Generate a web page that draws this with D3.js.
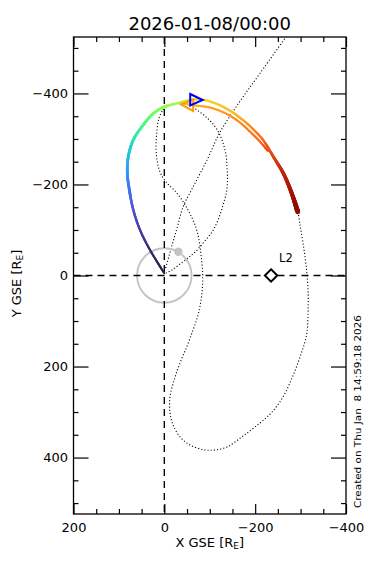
<!DOCTYPE html>
<html><head><meta charset="utf-8">
<script src="https://cdn.jsdelivr.net/npm/d3@7"></script>
<style>
body{margin:0;background:#fff}
svg{display:block}
text{font-family:"DejaVu Sans",sans-serif;fill:#000}
</style>
</head><body>
<svg id="c" width="379" height="566"></svg>
<script>
// ---------- data ----------
const titleText = "2026-01-08/00:00";
const xLabel = "X GSE [R";
const yLabel = "Y GSE [R";
const labelSub = "E";
const createdText = "Created on Thu Jan  8 14:59:18 2026";
const xMajorTicks = [200, 0, -200, -400];
const yMajorTicks = [-400, -200, 0, 200, 400];
const minorStep = 50;
const xDomain = [200, -400];
const yDomain = [-524, 524];

// colored trajectory (X, Y in RE, T = normalized time)
const trajX = [0, 31.5, 53.5, 68.3, 77, 81.5, 79.3, 68.3, 46.2, 24.2, -1.5, -27.3, -49.3, -67.6, -85.9, -115.4, -144.6, -173.9, -196, -218, -240, -262, -280.5, -293.7];
const trajY = [-5, -56, -100, -144, -188, -225, -261, -298, -331, -356, -371, -378, -384, -387, -386, -377, -362, -341, -321, -297, -261, -224.5, -180.6, -140];
const trajT = [0.01, 0.03, 0.06, 0.09, 0.13, 0.18, 0.24, 0.32, 0.39, 0.45, 0.49, 0.53, 0.56, 0.58, 0.60, 0.63, 0.66, 0.70, 0.74, 0.79, 0.84, 0.89, 0.93, 1.0];

// second colored track
const track2X = [-43.4, -63.8, -100.6, -137.4, -166.7, -188.7, -210.7, -228];
const track2Y = [-378, -374, -369, -355, -336, -316, -294, -273.5];
const track2T = [0.67, 0.68, 0.70, 0.72, 0.74, 0.76, 0.79, 0.83];

// dotted orbit 1 (straight outbound leg)
const dot1X = [-276.8, -209.6, -165.5, -121.5, -94, -63.2, -41.2, -28, -17, -6, -1.5];
const dot1Y = [-537, -442.7, -381.2, -313, -253.8, -194.5, -150.6, -104.3, -67, -27.5, -12];

// dotted orbit 2 (continuation loop)
const dot2X = [-294.4, -298.8, -305.4, -312, -316.4, -316.4, -313.1, -298.8, -281.2, -261.3, -237.1, -210.7, -173.3, -138, -111.6, -89.6, -56.6, -34.6, -19.2, -12.5, -12.5, -21.6, -34.6, -50, -63.2, -74.2, -80.8, -84.1, -84.1, -80.8, -76.4, -67.6, -54.4, -39, -21.4, -3.7, 9.5, 16.1, 18.3, 16.1, 11.7, 2.9, -12.5, -34.6, -56.6, -72, -89.6, -107.2, -120.4, -129.2, -135.8, -138, -139.1, -136.9, -129.2, -118.2, -105, -87.4, -69.8, -52.2, -34.6, -17, -3.7];
const dot2Y = [-139.5, -110.9, -71.4, -23.1, 31.9, 82.4, 130.7, 179, 225.1, 266.9, 299.9, 324, 352.6, 376.8, 383.3, 383.3, 372.4, 354.8, 328.4, 302.1, 266.9, 229.6, 192.2, 154.9, 119.7, 86.8, 53.8, 20.9, -12.1, -45, -78, -111, -139.5, -165.9, -187.8, -205.4, -227.4, -253.7, -286.7, -319.6, -346, -363.6, -374.6, -379, -374.6, -363.6, -350.4, -332.8, -313, -291, -264.7, -238.3, -209.8, -183.4, -154.9, -121.9, -95.6, -73.6, -53.8, -38.4, -25.3, -12.1, -5.5];

const moonOrbitRadius = 60;
const moonPos = [-30.8, -52.3];
const l2Pos = [-235, 0];
const l2Label = "L2";
const markerBlue = [-65.8, -386];
const markerOrange = [-54.4, -374.6];

// ---------- layout ----------
const W = 379, H = 566;
const L = 73.5, R = 346, T = 37, B = 514;
const svg = d3.select("#c");
const x = d3.scaleLinear().domain(xDomain).range([L, R]);
const y = d3.scaleLinear().domain(yDomain).range([T, B]);

svg.append("defs").append("clipPath").attr("id", "clip")
  .append("rect").attr("x", L).attr("y", T).attr("width", R - L).attr("height", B - T);
const plot = svg.append("g").attr("clip-path", "url(#clip)");

// dotted orbits
const lineGen = d3.line().curve(d3.curveCatmullRom.alpha(0.5));
[[dot1X, dot1Y], [dot2X, dot2Y]].forEach(([xs, ys]) => {
  plot.append("path")
    .attr("d", lineGen(xs.map((v, i) => [x(v), y(ys[i])])))
    .attr("fill", "none").attr("stroke", "#000").attr("stroke-width", 1.1)
    .attr("stroke-dasharray", "1.1,2.1");
});

// moon orbit and moon
const rPix = Math.abs(x(0) - x(moonOrbitRadius));
plot.append("circle").attr("cx", x(0)).attr("cy", y(0)).attr("r", rPix)
  .attr("fill", "none").attr("stroke", "#c4c4c4").attr("stroke-width", 1.9);
plot.append("circle").attr("cx", x(moonPos[0])).attr("cy", y(moonPos[1])).attr("r", 4.2)
  .attr("fill", "#c4c4c4");

// dashed zero lines
plot.append("line").attr("x1", x(0)).attr("x2", x(0)).attr("y1", T).attr("y2", B)
  .attr("stroke", "#000").attr("stroke-width", 1.4).attr("stroke-dasharray", "7,5");
plot.append("line").attr("x1", L).attr("x2", R).attr("y1", y(0)).attr("y2", y(0))
  .attr("stroke", "#000").attr("stroke-width", 1.4).attr("stroke-dasharray", "7,5");

// colored tracks
function drawColored(xs, ys, ts, widthFn) {
  const pts = xs.map((v, i) => [x(v), y(ys[i])]);
  const tmp = plot.append("path").attr("d", lineGen(pts)).attr("fill", "none").attr("stroke", "none");
  const node = tmp.node();
  const total = node.getTotalLength();
  const cum = [0];
  for (let i = 1; i < pts.length; i++) cum.push(cum[i - 1] + Math.hypot(pts[i][0] - pts[i - 1][0], pts[i][1] - pts[i - 1][1]));
  const C = cum[cum.length - 1];
  const tScale = d3.scaleLinear().domain(cum.map(c => c / C)).range(ts).clamp(true);
  const g = plot.append("g");
  const N = Math.ceil(total / 1.2);
  let prev = node.getPointAtLength(0);
  for (let k = 1; k <= N; k++) {
    const p = node.getPointAtLength(total * k / N);
    const t = tScale((k - 0.5) / N);
    g.append("line").attr("x1", prev.x).attr("y1", prev.y).attr("x2", p.x).attr("y2", p.y)
      .attr("stroke", d3.interpolateTurbo(t)).attr("stroke-width", widthFn(t))
      .attr("stroke-linecap", "round");
    prev = p;
  }
  tmp.remove();
}
drawColored(track2X, track2Y, track2T, t => 2.0);
drawColored(trajX, trajY, trajT, t => t < 0.12 ? 2 + t * 5 : (t < 0.5 ? 2.8 : (t < 0.79 ? 2.2 : 2.2 + (t - 0.79) * 13)));

// markers
const blueTri = [[-4, -5.8], [8.5, 0.2], [-4, 5.7]];
const orangeTri = [[-8, -0.5], [4.3, -5.5], [4, 6]];
plot.append("polygon")
  .attr("points", orangeTri.map(p => [x(markerOrange[0]) + p[0], y(markerOrange[1]) + p[1]].join(",")).join(" "))
  .attr("fill", "none").attr("stroke", "#ff9a00").attr("stroke-width", 2);
plot.append("polygon")
  .attr("points", blueTri.map(p => [x(markerBlue[0]) + p[0], y(markerBlue[1]) + p[1]].join(",")).join(" "))
  .attr("fill", "none").attr("stroke", "#0000ff").attr("stroke-width", 2);

// L2
const l2x = x(l2Pos[0]), l2y = y(l2Pos[1]);
plot.append("polygon")
  .attr("points", [[0, -6.2], [6.2, 0], [0, 6.2], [-6.2, 0]].map(p => [l2x + p[0], l2y + p[1]].join(",")).join(" "))
  .attr("fill", "#fff").attr("stroke", "#000").attr("stroke-width", 2);
svg.append("text").attr("x", l2x + 8).attr("y", l2y - 14).attr("font-size", 11.5).text(l2Label);

// axes
const fmt = d => d3.format("")(d);
const minorX = d3.range(-400, 201, minorStep).filter(v => !xMajorTicks.includes(v));
const minorY = d3.range(-500, 501, minorStep).filter(v => !yMajorTicks.includes(v));
function styleAxis(g) {
  g.select(".domain").remove();
  g.selectAll("line").attr("stroke", "#000").attr("stroke-width", 1.2);
  g.selectAll("text").attr("font-size", 13).attr("font-family", "DejaVu Sans, sans-serif").attr("fill", "#000");
}
svg.append("g").attr("transform", `translate(0,${B})`)
  .call(d3.axisBottom(x).tickValues(xMajorTicks).tickSize(-10).tickPadding(8.5).tickFormat(fmt)).call(styleAxis);
svg.append("g").attr("transform", `translate(0,${B})`)
  .call(d3.axisBottom(x).tickValues(minorX).tickSize(-5).tickFormat("")).call(styleAxis);
svg.append("g").attr("transform", `translate(0,${T})`)
  .call(d3.axisTop(x).tickValues(xMajorTicks).tickSize(-10).tickFormat("")).call(styleAxis);
svg.append("g").attr("transform", `translate(0,${T})`)
  .call(d3.axisTop(x).tickValues(minorX).tickSize(-5).tickFormat("")).call(styleAxis);
svg.append("g").attr("transform", `translate(${L},0)`)
  .call(d3.axisLeft(y).tickValues(yMajorTicks).tickSize(-15).tickPadding(5.5).tickFormat(fmt)).call(styleAxis);
svg.append("g").attr("transform", `translate(${L},0)`)
  .call(d3.axisLeft(y).tickValues(minorY).tickSize(-5).tickFormat("")).call(styleAxis);
svg.append("g").attr("transform", `translate(${R},0)`)
  .call(d3.axisRight(y).tickValues(yMajorTicks).tickSize(-15).tickFormat("")).call(styleAxis);
svg.append("g").attr("transform", `translate(${R},0)`)
  .call(d3.axisRight(y).tickValues(minorY).tickSize(-5).tickFormat("")).call(styleAxis);

// frame
svg.append("rect").attr("x", L).attr("y", T).attr("width", R - L).attr("height", B - T)
  .attr("fill", "none").attr("stroke", "#000").attr("stroke-width", 1.3);

// title and labels
svg.append("text").attr("x", (L + R) / 2).attr("y", 30).attr("text-anchor", "middle")
  .attr("font-size", 18).text(titleText);
const xl = svg.append("text").attr("x", (L + R) / 2).attr("y", 547).attr("text-anchor", "middle").attr("font-size", 13);
xl.append("tspan").text(xLabel);
xl.append("tspan").attr("font-size", 9).attr("dy", 2).text(labelSub);
xl.append("tspan").attr("dy", -2).text("]");
const yl = svg.append("text").attr("transform", "translate(20.7,283.5) rotate(-90)").attr("text-anchor", "middle").attr("font-size", 13);
yl.append("tspan").text(yLabel);
yl.append("tspan").attr("font-size", 9).attr("dy", 2).text(labelSub);
yl.append("tspan").attr("dy", -2).text("]");
svg.append("text").attr("transform", "translate(360.5,508) rotate(-90)").attr("font-size", 9.5)
  .attr("textLength", 193).attr("lengthAdjust", "spacingAndGlyphs")
  .style("white-space", "pre").text(createdText);
</script>
</body></html>
